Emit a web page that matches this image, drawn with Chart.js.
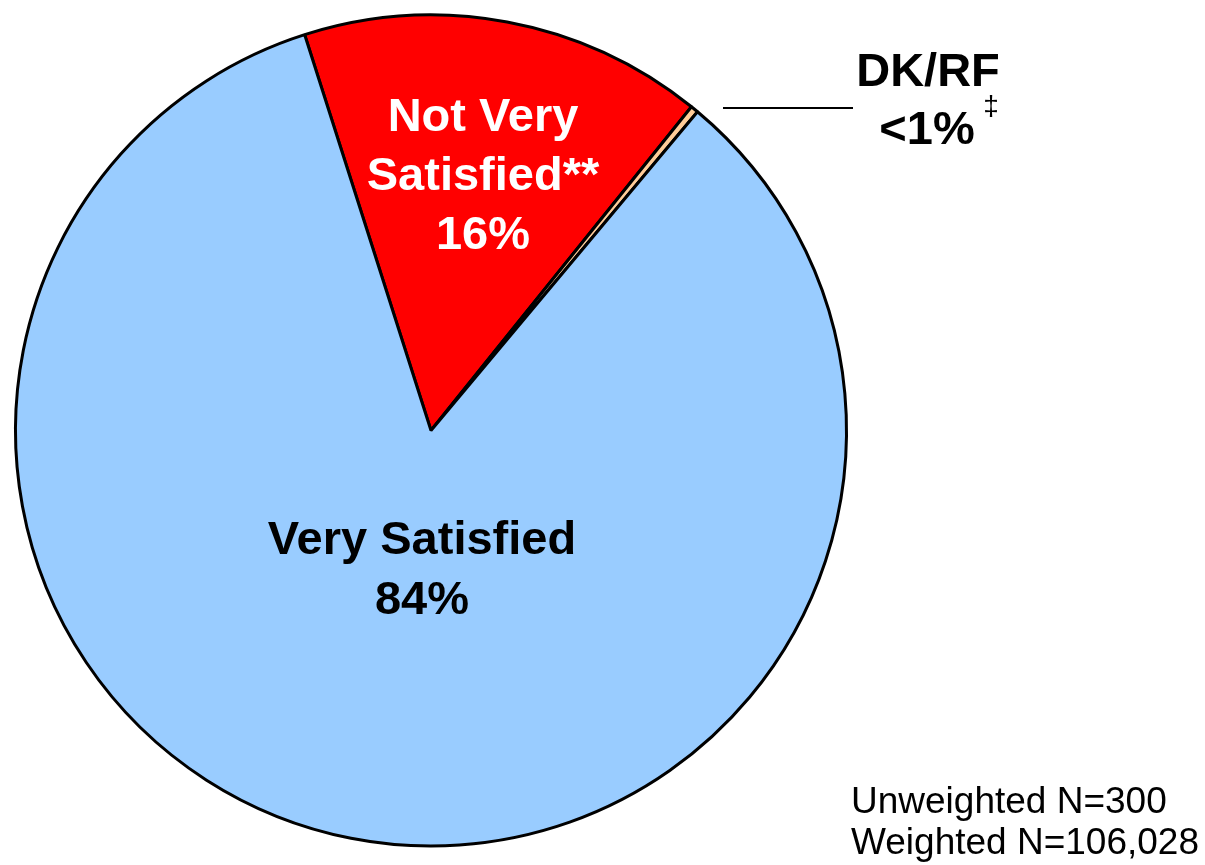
<!DOCTYPE html>
<html>
<head>
<meta charset="utf-8">
<script src="https://cdn.jsdelivr.net/npm/chart.js@4/dist/chart.umd.min.js"></script>
<style>
  html, body { margin: 0; padding: 0; background: #fff; }
  #wrap { width: 1205px; height: 865px; position: relative; }
</style>
</head>
<body>
<div id="wrap"><canvas id="pie"></canvas></div>
<script>
// Slice data
const categories = ['Not Very Satisfied**', 'DK/RF', 'Very Satisfied'];
const values = [15.7, 0.3, 84.0];
const sliceColors = ['#FF0000', '#FFCC99', '#99CCFF'];
const shownLabels = ['16%', '<1%', '84%'];
const sampleNotes = ['Unweighted N=300', 'Weighted N=106,028'];

const FONT = '"Liberation Sans", Arial, sans-serif';

// Draws the slice labels and the sample size notes
const labelPlugin = {
  id: 'pieLabels',
  afterDatasetsDraw(chart) {
    const ctx = chart.ctx;
    const arc = chart.getDatasetMeta(0).data[0];
    const cx = arc.x, cy = arc.y;
    ctx.save();
    ctx.textAlign = 'center';
    ctx.textBaseline = 'middle';
    ctx.font = 'bold 47px ' + FONT;

    // Not Very Satisfied (white, inside red slice)
    ctx.fillStyle = '#fff';
    ctx.fillText('Not Very', cx + 52, cy - 312);
    ctx.fillText('Satisfied**', cx + 52, cy - 253);
    ctx.fillText(shownLabels[0], cx + 52, cy - 194);

    // Very Satisfied
    ctx.fillStyle = '#000';
    ctx.fillText('Very Satisfied', cx - 9, cy + 111);
    ctx.fillText(shownLabels[2], cx - 9, cy + 171);

    // DK/RF with leader line
    ctx.fillText('DK/RF', 928, 73);
    ctx.fillText(shownLabels[1], 927, 131);
    ctx.font = '28px ' + FONT;
    ctx.fillText('\u2021', 991, 107);

    ctx.strokeStyle = '#000';
    ctx.lineWidth = 2;
    ctx.beginPath();
    ctx.moveTo(723, 108);
    ctx.lineTo(853, 108);
    ctx.stroke();

    // sample notes
    ctx.textAlign = 'left';
    ctx.font = '37px ' + FONT;
    ctx.fillText(sampleNotes[0], 851, 803);
    ctx.fillText(sampleNotes[1], 851, 844);
    ctx.restore();
  }
};

new Chart(document.getElementById('pie'), {
  type: 'pie',
  data: {
    labels: categories,
    datasets: [{
      data: values,
      backgroundColor: sliceColors,
      borderColor: '#000',
      borderWidth: 3,
      borderAlign: 'center'
    }]
  },
  options: {
    responsive: true,
    maintainAspectRatio: false,
    animation: false,
    rotation: -17.7,
    layout: { padding: { left: 14, top: 13, right: 357, bottom: 17 } },
    plugins: {
      legend: { display: false },
      tooltip: { enabled: false }
    }
  },
  plugins: [labelPlugin]
});
</script>
</body>
</html>
